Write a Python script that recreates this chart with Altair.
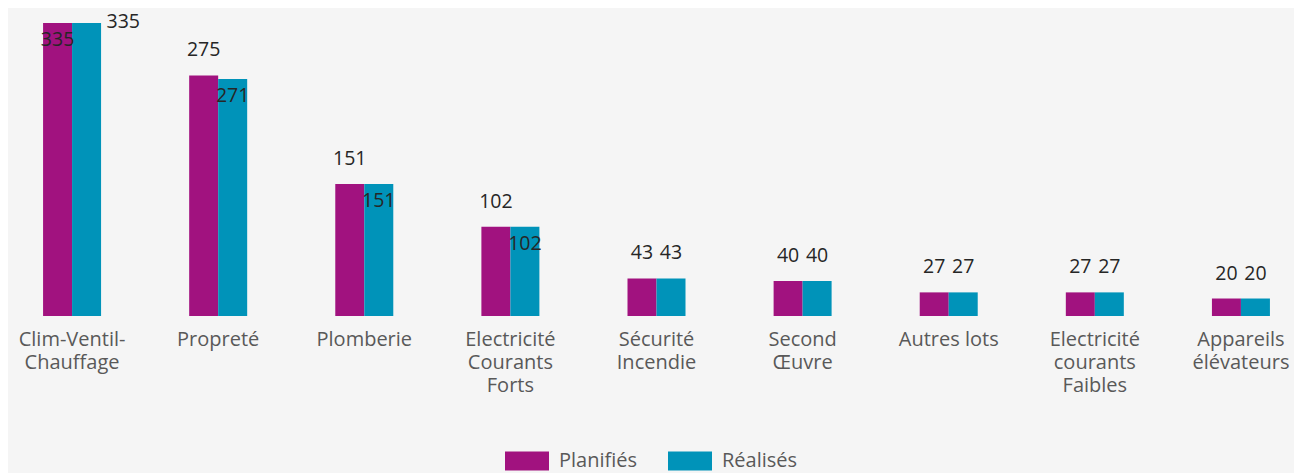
import altair as alt
import pandas as pd

categories = [
    "Clim-Ventil-|Chauffage",
    "Propreté",
    "Plomberie",
    "Electricité|Courants|Forts",
    "Sécurité|Incendie",
    "Second|Œuvre",
    "Autres lots",
    "Electricité|courants|Faibles",
    "Appareils|élévateurs",
]
series = ["Planifiés", "Réalisés"]
planifies = [335, 275, 151, 102, 43, 40, 27, 27, 20]
realises = [335, 271, 151, 102, 43, 40, 27, 27, 20]

colors = ["#A1127F", "#0093B9"]

# label placement (mimicking the original's collision handling)
inside_planned = {"Clim-Ventil-|Chauffage"}
inside_real = {"Propreté", "Plomberie", "Electricité|Courants|Forts"}
right_real = {"Clim-Ventil-|Chauffage"}

rows = []
for c, p, r in zip(categories, planifies, realises):
    rows.append({"cat": c, "serie": "Planifiés", "value": p,
                 "pos": "inside" if c in inside_planned else "above"})
    rows.append({"cat": c, "serie": "Réalisés", "value": r,
                 "pos": "right" if c in right_real else ("inside" if c in inside_real else "above")})
df = pd.DataFrame(rows)

FONT = "Open Sans"

x = alt.X("cat:N", sort=categories, title=None,
          scale=alt.Scale(range=[0, 1297], paddingInner=0.603, paddingOuter=0.24),
          axis=alt.Axis(labelAngle=0, domain=False, ticks=False, labelFont=FONT,
                        labelFontSize=20, labelColor="#595959", labelPadding=13,
                        labelLineHeight=23, labelExpr="split(datum.label, '|')",
                        labelBaseline="top", labelLimit=300))
xo = alt.XOffset("serie:N", sort=series, scale=alt.Scale(paddingInner=0, paddingOuter=0))
y = alt.Y("value:Q", scale=alt.Scale(domain=[0, 335], nice=False, zero=True), axis=None)

base = alt.Chart(df)

bars = base.mark_bar(size=29).encode(
    x=x, xOffset=xo, y=y,
    color=alt.Color("serie:N", sort=series,
                    scale=alt.Scale(domain=series, range=colors),
                    legend=alt.Legend(
                        title=None, orient="none", direction="horizontal",
                        legendX=497, legendY=416,
                        symbolType="M-1,-0.432L1,-0.432L1,0.432L-1,0.432Z",
                        symbolSize=1936, symbolStrokeWidth=0, symbolOpacity=1,
                        labelFont=FONT, labelFontSize=20, labelColor="#595959",
                        labelOffset=10, columnPadding=30, padding=0)),
)

txt_kw = dict(font=FONT, fontSize=19.5, color="#262626", baseline="middle")
enc = dict(x=x, xOffset=xo, y=y, text="value:Q")

above = base.transform_filter("datum.pos == 'above'").mark_text(dy=-25, **txt_kw).encode(**enc)
inside = base.transform_filter("datum.pos == 'inside'").mark_text(dy=17, **txt_kw).encode(**enc)
right = base.transform_filter("datum.pos == 'right'").mark_text(dy=-1, dx=20, align="left", **txt_kw).encode(**enc)

chart = alt.layer(bars, above, inside, right).properties(
    width=1286, height=293,
    autosize=alt.AutoSizeParams(type="none"),
    padding={"left": 0, "top": 15, "right": 0, "bottom": 157},
    background="#F5F5F5",
).configure_view(stroke=None)

chart.save("out.html", embed_options={"renderer": "svg", "actions": False})
